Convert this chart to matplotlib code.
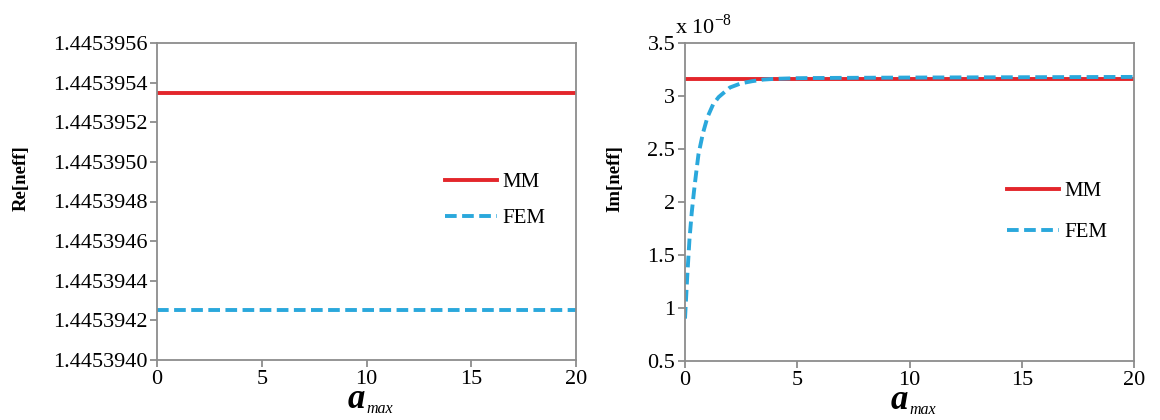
import numpy as np
import matplotlib.pyplot as plt
from matplotlib.ticker import FuncFormatter

plt.rcParams['font.family'] = ['Liberation Serif', 'DejaVu Serif']
plt.rcParams['mathtext.fontset'] = 'custom'
plt.rcParams['mathtext.rm'] = 'Liberation Serif'

# real part: both methods are flat in a_max
a_re = [0, 20]
re_mm = [1.44539535, 1.44539535]
re_fem = [1.44539425, 1.44539425]

# imaginary part, in units of 1e-8
a_im_mm = [0, 20]
im_mm = [3.16, 3.16]
a_im_fem = [0, 0.1, 0.2, 0.3, 0.4, 0.5, 0.6, 0.8, 1.0, 1.25, 1.5, 2.0, 2.5,
            3.0, 3.5, 4.0, 5.0, 6.0, 8.0, 10.0, 15.0, 20.0]
im_fem = [0.9, 1.3, 1.65, 1.9, 2.1, 2.28, 2.45, 2.65, 2.8, 2.92, 2.99, 3.08, 3.12,
          3.14, 3.155, 3.162, 3.168, 3.17, 3.172, 3.174, 3.177, 3.18]

re_ticks = [1.445394 + 2e-7 * i for i in range(9)]
im_ticks = [0.5, 1, 1.5, 2, 2.5, 3, 3.5]
x_ticks = [0, 5, 10, 15, 20]

red = '#e3262b'
blue = '#2aa8dc'
grey = '#8c8c8c'
dash = (0, (3, 1.4))

fig = plt.figure(figsize=(11.6, 4.2), dpi=100)
ax1 = fig.add_axes([157/1160, 1 - 360/420, 419/1160, 317/420])
ax2 = fig.add_axes([685/1160, 1 - 361/420, 449/1160, 318/420])

for ax in (ax1, ax2):
    for s in ax.spines.values():
        s.set_color(grey)
        s.set_linewidth(1.3)
    ax.tick_params(direction='out', length=5, width=1.3, color=grey,
                   labelsize=16, pad=2)
    ax.set_xlim(0, 20)
    ax.set_xticks(x_ticks)
    ax.set_xticklabels([str(t) for t in x_ticks])
    # a_max axis label: bold italic "a" with italic subscript
    ax.text(0.497, -0.152, 'a', transform=ax.transAxes, fontsize=25,
            fontweight='bold', fontstyle='italic', ha='right', va='baseline')
    ax.text(0.50, -0.168, 'max', transform=ax.transAxes, fontsize=11.5,
            fontstyle='italic', ha='left', va='baseline')

ax1.plot(a_re, re_mm, color=red, lw=2.8, label='MM')
ax1.plot(a_re, re_fem, color=blue, lw=2.8, ls=dash, label='FEM')
ax1.set_ylim(re_ticks[0], re_ticks[-1])
ax1.set_yticks(re_ticks)
ax1.set_yticklabels(['%.7f' % t for t in re_ticks])
ax1.set_ylabel('Re[neff]', fontsize=13.5, fontweight='bold')
ax1.yaxis.set_label_coords(-0.303, 0.574)

ax2.plot(a_im_mm, im_mm, color=red, lw=2.8, label='MM')
ax2.plot(a_im_fem, im_fem, color=blue, lw=2.8, ls=dash, label='FEM')
ax2.set_ylim(0.5, 3.5)
ax2.set_yticks(im_ticks)
ax2.yaxis.set_major_formatter(FuncFormatter(lambda v, p: '%g' % v))
ax2.set_ylabel('Im[neff]', fontsize=13.5, fontweight='bold')
ax2.yaxis.set_label_coords(-0.138, 0.575)
ax2.text(-0.022, 1.03, r'x 10$^{\mathregular{-8}}$', transform=ax2.transAxes,
         fontsize=16, ha='left', va='baseline')

leg_kw = dict(frameon=False, fontsize=15, handlelength=2.5, handletextpad=0.25,
              borderpad=0, borderaxespad=0)
ax1.legend(loc='center left', bbox_to_anchor=(0.687, 0.503), labelspacing=0.8,
           **leg_kw)
ax2.legend(loc='center left', bbox_to_anchor=(0.717, 0.469), labelspacing=1.05,
           **leg_kw)

fig.savefig('out.png', dpi=100)
